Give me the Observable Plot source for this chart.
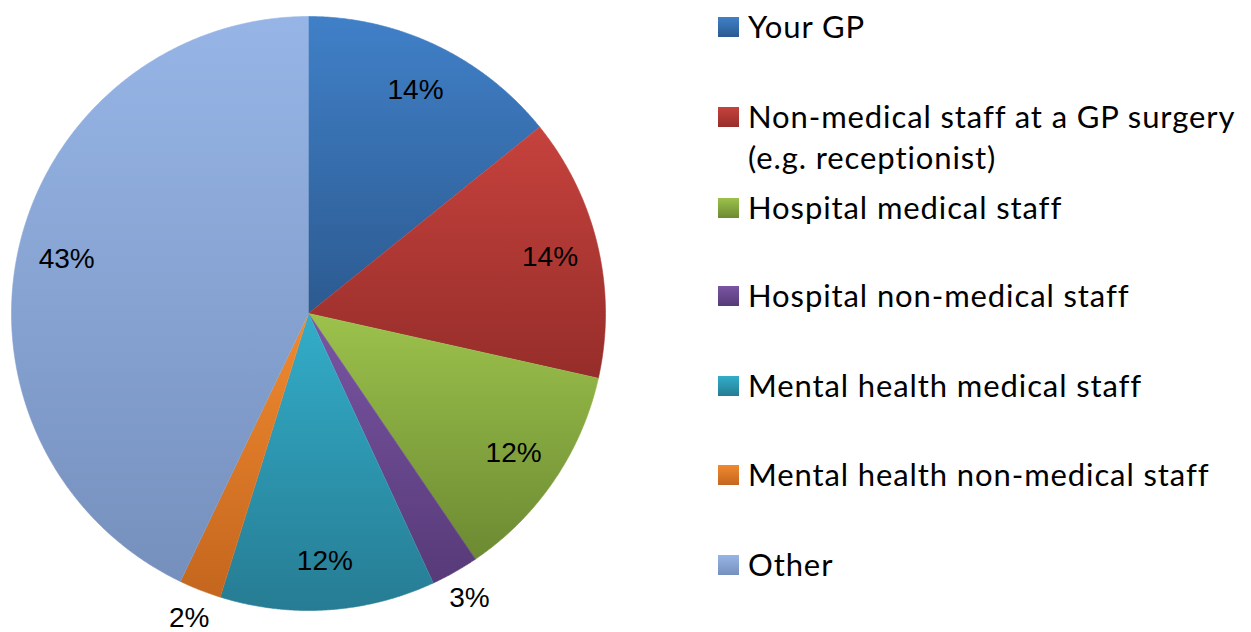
<!DOCTYPE html>
<html><head><meta charset="utf-8">
<script src="https://cdn.jsdelivr.net/npm/d3@7"></script>
<script src="https://cdn.jsdelivr.net/npm/@observablehq/plot@0.6"></script>
<style>
html,body{margin:0;padding:0;background:#fff;}
#wrap{position:relative;width:1251px;height:632px;overflow:hidden;background:#fff;}
#chart{position:absolute;left:0;top:0;}
#legend{position:absolute;left:718px;top:0;font-family:Lato,"Open Sans",sans-serif;font-size:31px;letter-spacing:0.9px;color:#000;}
.item{position:absolute;left:0;width:533px;line-height:41px;padding-left:30px;box-sizing:border-box;white-space:nowrap;}
.sw{position:absolute;left:0;width:21px;height:20px;top:11px;}
</style></head><body>
<div id="wrap"><div id="chart"></div><div id="legend"></div></div>
<script>
const categories = ["Your GP", "Non-medical staff at a GP surgery (e.g. receptionist)", "Hospital medical staff", "Hospital non-medical staff", "Mental health medical staff", "Mental health non-medical staff", "Other"];
const values = [14.2, 14.3, 12.0, 2.6, 11.7, 2.3, 42.9];
const topColors = ["#4080c8", "#c6423d", "#9cc24c", "#7a55a3", "#33adc9", "#f08a30", "#96b5e6"];
const bottomColors = ["#2c5a90", "#962d2a", "#6c8a32", "#573a78", "#267c93", "#c4661e", "#7690bd"];
const legendLines = [["Your GP"], ["Non-medical staff at a GP surgery", "(e.g. receptionist)"], ["Hospital medical staff"], ["Hospital non-medical staff"], ["Mental health medical staff"], ["Mental health non-medical staff"], ["Other"]];

// layout
const W = 616, H = 632, R = 297, CX = 308, CY = 313;

const rows = categories.map((c, i) => ({cat: c, value: values[i]}));
const arcs = d3.pie().sort(null).value(d => d.value)(rows);

const pts = [];
arcs.forEach(a => {
  const n = Math.max(4, Math.ceil((a.endAngle - a.startAngle) / 0.005));
  pts.push({cat: a.data.cat, x: 0, y: 0});
  for (let k = 0; k <= n; k++) {
    const t = a.startAngle + (a.endAngle - a.startAngle) * k / n;
    pts.push({cat: a.data.cat, x: Math.sin(t), y: Math.cos(t)});
  }
});

const labels = arcs.map(a => {
  const m = (a.startAngle + a.endAngle) / 2;
  const r = a.data.value < 5 ? 1.1 : 0.835;
  return {x: r * Math.sin(m), y: r * Math.cos(m), text: Math.round(a.data.value) + "%"};
});

const svg = Plot.plot({
  width: W, height: H, margin: 0,
  x: {domain: [-CX / R, (W - CX) / R], axis: null},
  y: {domain: [-(H - CY) / R, CY / R], axis: null},
  color: {type: "ordinal", domain: categories, range: categories.map((_, i) => `url(#grad${i})`)},
  marks: [
    Plot.line(pts, {x: "x", y: "y", z: "cat", fill: "cat", stroke: "cat", strokeWidth: 0.6, curve: "linear"}),
    Plot.text(labels, {x: "x", y: "y", text: "text", fontSize: 28, fontFamily: "'Liberation Sans', Arial, sans-serif", fill: "#000"})
  ]
});
svg.style.background = "transparent";
svg.style.overflow = "visible";
const defs = d3.select(svg).insert("defs", ":first-child");
categories.forEach((c, i) => {
  const g = defs.append("linearGradient").attr("id", `grad${i}`).attr("x1", 0).attr("y1", 0).attr("x2", 0).attr("y2", 1);
  g.append("stop").attr("offset", "0%").attr("stop-color", topColors[i]);
  g.append("stop").attr("offset", "100%").attr("stop-color", bottomColors[i]);
});
document.getElementById("chart").appendChild(svg);

// legend
const legendTops = [6, 96, 187, 275, 365, 454, 544];
const leg = document.getElementById("legend");
categories.forEach((c, i) => {
  const it = document.createElement("div");
  it.className = "item";
  it.style.top = legendTops[i] + "px";
  const sw = document.createElement("div");
  sw.className = "sw";
  sw.style.background = `linear-gradient(${topColors[i]}, ${bottomColors[i]})`;
  it.appendChild(sw);
  legendLines[i].forEach(l => { const d = document.createElement("div"); d.textContent = l; it.appendChild(d); });
  leg.appendChild(it);
});
</script>
</body></html>
